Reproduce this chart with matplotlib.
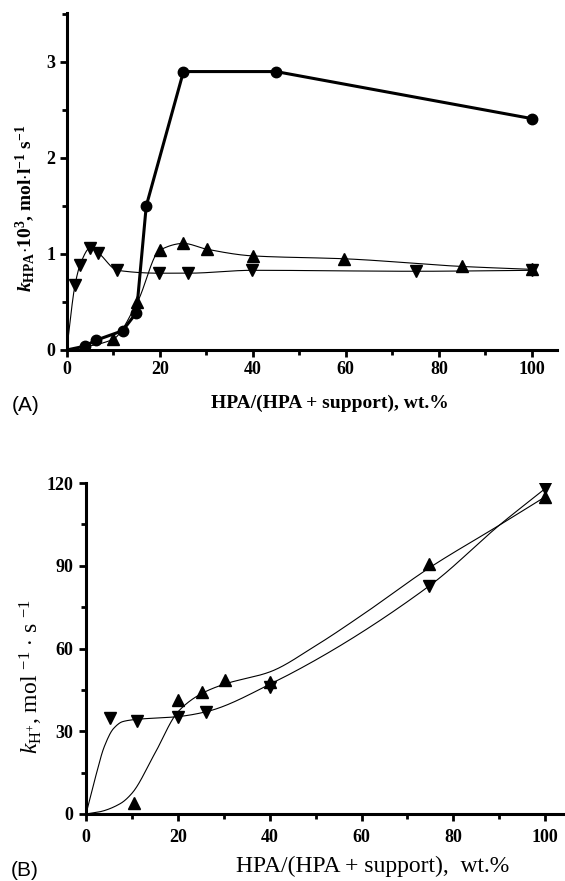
import numpy as np
import matplotlib
matplotlib.use('Agg')
import matplotlib.pyplot as plt
from matplotlib.ticker import MultipleLocator

plt.rcParams['font.family'] = 'Liberation Serif'
plt.rcParams['mathtext.fontset'] = 'custom'
plt.rcParams['mathtext.rm'] = 'Liberation Serif'
plt.rcParams['mathtext.it'] = 'Liberation Serif:italic'
plt.rcParams['mathtext.bf'] = 'Liberation Serif:bold'
plt.rcParams['mathtext.bfit'] = 'Liberation Serif:italic:bold'

# panel A data
a_circ_x = [0, 3.9, 6.2, 12.0, 15.0, 17.1, 25.1, 45.0, 100]
a_circ_y = [0, 0.04, 0.10, 0.20, 0.39, 1.50, 2.90, 2.90, 2.41]
a_up_x = [0, 9.9, 15.2, 20.0, 25.1, 30.1, 40.0, 59.7, 85.0, 100]
a_up_y = [0, 0.11, 0.50, 1.04, 1.11, 1.05, 0.98, 0.95, 0.87, 0.84]
a_dn_x = [0, 1.8, 2.9, 5.0, 6.8, 10.9, 19.9, 26.1, 39.9, 75.0, 100]
a_dn_y = [0, 0.68, 0.89, 1.06, 1.01, 0.83, 0.80, 0.80, 0.83, 0.82, 0.83]

# panel B data
b_up_x = [10.4, 20.0, 25.3, 30.2, 40.0, 74.7, 100]
b_up_y = [4.1, 41.4, 44.4, 48.4, 48.0, 90.7, 115.0]
b_dn_x = [5.3, 11.1, 20.0, 26.1, 40.0, 74.7, 100]
b_dn_y = [34.7, 33.7, 35.0, 36.8, 46.2, 82.5, 118.2]
# fitted curves in panel B
b_fit_up_x = [0, 3, 7.5, 10, 15, 20, 25, 30, 40, 50, 60, 75, 90, 100]
b_fit_up_y = [0, 0.8, 3.8, 7.5, 22, 37, 43.5, 47, 51.5, 61, 72, 89.5, 104.7, 115]
b_fit_dn_x = [0, 2, 4, 6, 8, 11, 20, 26, 40, 75, 90, 100]
b_fit_dn_y = [0, 13, 24.5, 31, 33.5, 34.3, 35.3, 37, 47, 83, 104.7, 118]


def pchip(x, y, xs):
    x = np.asarray(x, float)
    y = np.asarray(y, float)
    h = np.diff(x)
    d = np.diff(y) / h
    m = np.zeros_like(y)
    m[0] = d[0]
    m[-1] = d[-1]
    for k in range(1, len(x) - 1):
        if d[k - 1] * d[k] > 0:
            w1 = 2 * h[k] + h[k - 1]
            w2 = h[k] + 2 * h[k - 1]
            m[k] = (w1 + w2) / (w1 / d[k - 1] + w2 / d[k])
    i = np.clip(np.searchsorted(x, xs) - 1, 0, len(x) - 2)
    t = (xs - x[i]) / h[i]
    h00 = 2 * t**3 - 3 * t**2 + 1
    h10 = t**3 - 2 * t**2 + t
    h01 = -2 * t**3 + 3 * t**2
    h11 = t**3 - t**2
    return h00 * y[i] + h10 * h[i] * m[i] + h01 * y[i + 1] + h11 * h[i] * m[i + 1]


def style_axes(ax, pad_x, pad_y):
    for s in ['top', 'right']:
        ax.spines[s].set_visible(False)
    for s in ['left', 'bottom']:
        ax.spines[s].set_linewidth(2.2)
    ax.tick_params(which='major', direction='out', length=5, width=2,
                   labelsize=13)
    ax.tick_params(which='minor', direction='out', length=3.5, width=2)
    ax.tick_params(axis='x', pad=pad_x)
    ax.tick_params(axis='y', pad=pad_y)
    for lab in ax.get_xticklabels() + ax.get_yticklabels():
        lab.set_fontweight('bold')


fig = plt.figure(figsize=(5.65, 8.81), dpi=100)

# ---- panel A
axA = fig.add_axes([66.7/565, 1-350/881, (557-66.7)/565, (350-13)/881])
xs = np.linspace(0, 100, 600)
axA.plot(xs, pchip(a_up_x, a_up_y, xs), color='k', lw=0.8)
axA.plot(xs, pchip(a_dn_x, a_dn_y, xs), color='k', lw=0.8)
axA.plot(a_up_x[1:], a_up_y[1:], '^', color='k', ms=8.5, ls='none')
axA.plot(a_dn_x[1:], a_dn_y[1:], 'v', color='k', ms=8.5, ls='none')
axA.plot(a_circ_x, a_circ_y, '-o', color='k', lw=2.2, ms=7.5,
         markevery=list(range(1, len(a_circ_x))))
axA.set_xlim(0, 105.4)
axA.set_ylim(0, 3.51)
axA.xaxis.set_major_locator(MultipleLocator(20))
axA.xaxis.set_minor_locator(MultipleLocator(10))
axA.yaxis.set_major_locator(MultipleLocator(1))
axA.yaxis.set_minor_locator(MultipleLocator(0.5))
style_axes(axA, 3, 3)

fig.text(12/565, 1-406/881, '(A)', family='Liberation Sans', fontsize=15,
         va='center', ha='left')
fig.text(330/565, 1-403/881, 'HPA/(HPA + support), wt.%', fontsize=14,
         fontweight='bold', ha='center', va='center')
fig.text(25/565, 1-208/881,
         r'$\mathbfit{k}_{\mathbf{HPA}}\mathbf{\cdot 10}^{\mathbf{3}}$, '
         r'mol$\cdot$l$^{\mathbf{-1}}$ s$^{\mathbf{-1}}$',
         fontsize=14, fontweight='bold', rotation=90, ha='center', va='center')

# ---- panel B
axB = fig.add_axes([86/565, 1-814/881, (565-86)/565, (814-483)/881])
xs = np.linspace(0, 100, 600)
axB.plot(xs, pchip(b_fit_up_x, b_fit_up_y, xs), color='k', lw=0.8)
axB.plot(xs, pchip(b_fit_dn_x, b_fit_dn_y, xs), color='k', lw=0.8)
axB.plot(b_up_x, b_up_y, '^', color='k', ms=9, ls='none')
axB.plot(b_dn_x, b_dn_y, 'v', color='k', ms=9, ls='none')
axB.set_xlim(0, 104.3)
axB.set_ylim(0, 120)
axB.xaxis.set_major_locator(MultipleLocator(20))
axB.xaxis.set_minor_locator(MultipleLocator(10))
axB.yaxis.set_major_locator(MultipleLocator(30))
axB.yaxis.set_minor_locator(MultipleLocator(15))
style_axes(axB, 6, 4)

fig.text(11/565, 1-870/881, '(B)', family='Liberation Sans', fontsize=15,
         va='center', ha='left')
fig.text(373/565, 1-866/881, 'HPA/(HPA + support),  wt.%', fontsize=17,
         ha='center', va='center')
fig.text(31/565, 1-676/881,
         r'$\mathit{k}_{\mathrm{H^{+}}}$, mol $^{-1}$ $\cdot$ s $^{-1}$',
         fontsize=17, rotation=90, ha='center', va='center')

fig.savefig('out.png', dpi=100)
